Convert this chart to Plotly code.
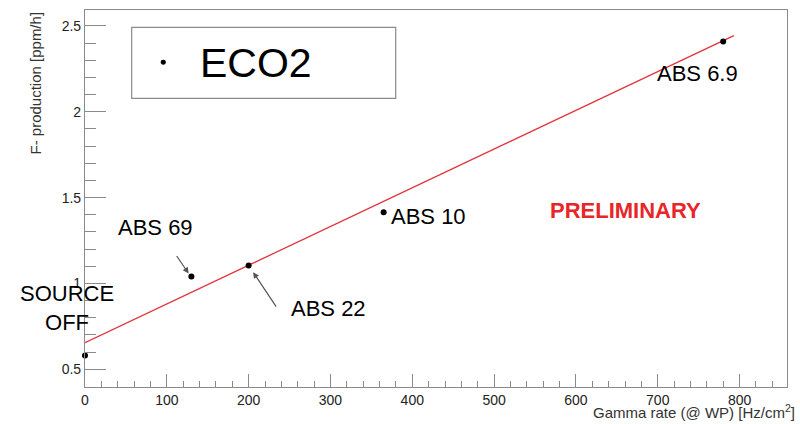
import numpy as np
import plotly.graph_objects as go

# ---- data ----
labels = ["SOURCE OFF", "ABS 69", "ABS 22", "ABS 10", "ABS 6.9"]
gamma_rate = [0, 130, 200, 365, 780]          # Hz/cm^2
f_production = [0.58, 1.04, 1.105, 1.415, 2.41]  # ppm/h
fit_intercept = 0.655
fit_slope = 0.002256
fit_range = [0, 793]

x_ticks = [0, 100, 200, 300, 400, 500, 600, 700, 800]
y_ticks = [0.5, 1, 1.5, 2, 2.5]

FONT = "Liberation Sans, Arial, Helvetica, sans-serif"
GREY = "#8a8a8a"

fig = go.Figure()

# fit line
fx = np.linspace(fit_range[0], fit_range[1], 50)
fy = fit_intercept + fit_slope * fx
fig.add_trace(go.Scatter(x=fx, y=fy, mode="lines",
                         line=dict(color="#e0343c", width=1.3),
                         hoverinfo="skip", showlegend=False))

# data points
fig.add_trace(go.Scatter(x=gamma_rate, y=f_production, mode="markers",
                         marker=dict(color="black", size=6),
                         text=labels, name="ECO2", showlegend=False,
                         cliponaxis=False))

ann = []
def txt(x, y, s, size=22, color="black", xanchor="center", bold=False, xref="x", yref="y"):
    if bold:
        s = "<b>" + s + "</b>"
    ann.append(dict(x=x, y=y, xref=xref, yref=yref, text=s, showarrow=False,
                    xanchor=xanchor, yanchor="middle",
                    font=dict(family=FONT, size=size, color=color)))

txt(85.6, 1.326, "ABS 69")
txt(-0.0261, 0.2089, "SOURCE<br>OFF", xref="paper", yref="paper")
txt(297, 0.856, "ABS 22")
txt(371.9, 1.391, "ABS 10", xanchor="left")
txt(661, 1.428, "PRELIMINARY", size=22, color="#e8262a", bold=True)
txt(748, 2.226, "ABS 6.9")

# arrows
ann.append(dict(x=126.7, y=1.058, xref="x", yref="y", text="", showarrow=True,
                ax=-13, ay=-19, arrowhead=2, arrowsize=1, arrowwidth=1.2,
                arrowcolor="#555555"))
ann.append(dict(x=205.5, y=1.066, xref="x", yref="y", text="", showarrow=True,
                ax=24, ay=36, arrowhead=2, arrowsize=1, arrowwidth=1.2,
                arrowcolor="#555555"))

# legend-like box
ann.append(dict(x=0.161, y=0.8602, xref="paper", yref="paper", text="ECO2",
                showarrow=False, xanchor="left", yanchor="middle",
                font=dict(family=FONT, size=41, color="black")))
# axis titles
ann.append(dict(x=-0.0712, y=1.0, xref="paper", yref="paper",
                text="F- production [ppm/h]", textangle=-90, showarrow=False,
                xanchor="center", yanchor="top",
                font=dict(family=FONT, size=15, color="#333333")))
ann.append(dict(x=1.0142, y=-0.064, xref="paper", yref="paper",
                text="Gamma rate (@ WP) [Hz/cm<sup>2</sup>]", showarrow=False,
                xanchor="right", yanchor="middle",
                font=dict(family=FONT, size=15, color="#333333")))

shapes = [
    dict(type="rect", xref="paper", yref="paper", x0=0.0665, x1=0.4426,
         y0=0.7658, y1=0.9541, line=dict(color=GREY, width=1.2),
         fillcolor="white", layer="below"),
    dict(type="circle", xref="paper", yref="paper",
         x0=0.1115 - 0.0036, x1=0.1115 + 0.0036,
         y0=0.8613 - 0.0066, y1=0.8613 + 0.0066,
         fillcolor="black", line=dict(color="black", width=0)),
]

fig.update_layout(
    width=800, height=424,
    margin=dict(l=85, r=13, t=10, b=37),
    paper_bgcolor="white", plot_bgcolor="white",
    font=dict(family=FONT, size=14, color="#222222"),
    annotations=ann, shapes=shapes, showlegend=False,
    xaxis=dict(range=[0, 858], tickvals=x_ticks, ticks="inside", ticklen=13,
               tickcolor=GREY, tickwidth=1, showgrid=False, zeroline=False,
               showline=True, linecolor=GREY, linewidth=1.2, mirror=True,
               tickfont=dict(size=14, color="#222222"),
               minor=dict(dtick=20, tick0=0, ticks="inside", ticklen=6,
                          tickcolor=GREY, showgrid=False)),
    yaxis=dict(range=[0.397, 2.593], tickvals=y_ticks, ticks="inside", ticklen=21,
               tickcolor=GREY, tickwidth=1, showgrid=False, zeroline=False,
               showline=True, linecolor=GREY, linewidth=1.2, mirror=True,
               tickfont=dict(size=14, color="#222222"),
               minor=dict(dtick=0.1, tick0=0.5, ticks="inside", ticklen=11,
                          tickcolor=GREY, showgrid=False)),
)

fig.write_html("out.html", config={"displayModeBar": False},
               post_script="document.body.style.margin='0';document.body.style.overflow='hidden';")
